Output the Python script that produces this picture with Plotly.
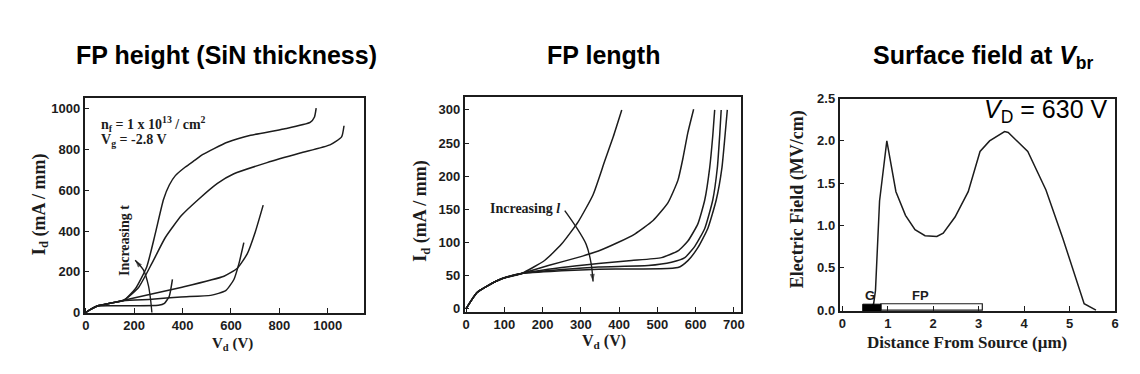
import plotly.graph_objects as go

# ---------------- Data ----------------
# Left panel: FP height (SiN thickness), Id vs Vd
L1_x = [0, 20, 50, 100, 157, 204, 252, 286, 321, 345, 370, 410, 451, 482, 530, 585, 681, 818, 927, 945, 952]
L1_y = [0, 15, 33, 45, 60, 115, 225, 382, 555, 626, 672, 713, 748, 775, 805, 836, 870, 901, 933, 960, 1003]
L2_x = [0, 20, 50, 100, 157, 218, 273, 328, 396, 465, 544, 612, 749, 886, 1009, 1057, 1067]
L2_y = [0, 15, 33, 45, 60, 123, 241, 367, 477, 555, 634, 681, 736, 783, 823, 862, 917]
L3_x = [0, 20, 50, 100, 157, 393, 571, 626, 667, 701, 733]
L3_y = [0, 15, 33, 45, 60, 123, 178, 217, 288, 398, 527]
L4_x = [0, 20, 50, 100, 157, 273, 393, 516, 578, 612, 633, 653]
L4_y = [0, 15, 33, 45, 58, 65, 76, 84, 107, 162, 241, 343]
L5_x = [0, 20, 50, 150, 300, 325, 345, 358]
L5_y = [0, 15, 32, 33, 35, 45, 80, 162]
L_arrow_x = [273, 268, 259, 238, 204]
L_arrow_y = [0, 60, 131, 209, 257]
L_xticks = [0, 200, 400, 600, 800, 1000]
L_yticks = [0, 200, 400, 600, 800, 1000]

# Middle panel: FP length, Id vs Vd
M_common_x = [0, 28, 55, 93, 145]
M_common_y = [0, 24, 34, 45, 53]
M1_x = M_common_x + [206, 249, 293, 332, 362, 385, 407]
M1_y = M_common_y + [73, 97, 131, 172, 222, 260, 300]
M2_x = M_common_x + [215, 300, 346, 394, 442, 489, 528, 554, 567, 580, 595]
M2_y = M_common_y + [65, 78.5, 87, 99, 113, 133, 160, 194, 227, 266, 301]
M3_x = M_common_x + [250, 346, 433, 511, 554, 580, 606, 624, 637, 645, 650]
M3_y = M_common_y + [62, 68, 72.5, 77, 87, 102, 128, 164, 213, 261, 300]
M4_x = M_common_x + [250, 346, 476, 537, 572, 598, 624, 645, 657, 663, 667]
M4_y = M_common_y + [59, 63, 65, 70, 77, 94, 121, 164, 213, 261, 300]
M5_x = M_common_x + [250, 346, 554, 580, 606, 632, 654, 669, 677, 683]
M5_y = M_common_y + [57, 59.5, 62, 72.5, 92, 121, 164, 213, 261, 300]
M_arrow_x = [258, 288, 314, 327, 332]
M_arrow_y = [148, 123, 97, 68, 41]
M_xticks = [0, 100, 200, 300, 400, 500, 600, 700]
M_yticks = [0, 50, 100, 150, 200, 250, 300]

# Right panel: surface field at Vbr
R_x = [0.6, 0.69, 0.73, 0.82, 0.98, 1.18, 1.39, 1.60, 1.82, 2.08, 2.22, 2.48, 2.77, 3.03, 3.24, 3.57, 3.65, 4.08, 4.48, 4.85, 5.32, 5.58]
R_y = [0.0, 0.076, 0.23, 1.29, 2.0, 1.40, 1.12, 0.95, 0.88, 0.87, 0.91, 1.10, 1.40, 1.875, 2.0, 2.11, 2.10, 1.875, 1.42, 0.85, 0.075, 0.0]
gate_span = [0.45, 0.85]
fp_span = [0.85, 3.08]
R_xticks = [0, 1, 2, 3, 4, 5, 6]
R_yticks = [0.0, 0.5, 1.0, 1.5, 2.0, 2.5]
R_yticktext = ["0.0", "0.5", "1.0", "1.5", "2.0", "2.5"]

# ---------------- Figure ----------------
INK = "#1c1c1c"
SANS = "Liberation Sans"
SERIF = "Liberation Serif"
OFF = 8                      # page body margin of the browser
W, H = 1140 - 2 * OFF, 374 - 2 * OFF

fig = go.Figure()


def add_curve(x, y, xa, ya, shape="spline"):
    fig.add_trace(go.Scatter(
        x=x, y=y, mode="lines", xaxis=xa, yaxis=ya, hoverinfo="skip",
        line=dict(color=INK, width=1.5, shape=shape, smoothing=0.5 if shape == "spline" else None),
    ))


def add_arrow(x, y, xa, ya):
    sizes = [0] * (len(x) - 1) + [8]
    fig.add_trace(go.Scatter(
        x=x, y=y, mode="lines+markers", xaxis=xa, yaxis=ya, hoverinfo="skip",
        line=dict(color=INK, width=1.4, shape="spline", smoothing=0.8),
        marker=dict(symbol="arrow", size=sizes, angleref="previous", color=INK, line=dict(width=0)),
    ))


for cx, cy in [(L1_x, L1_y), (L2_x, L2_y), (L3_x, L3_y), (L4_x, L4_y), (L5_x, L5_y)]:
    add_curve(cx, cy, "x", "y")
add_arrow(L_arrow_x, L_arrow_y, "x", "y")

for cx, cy in [(M1_x, M1_y), (M2_x, M2_y), (M3_x, M3_y), (M4_x, M4_y), (M5_x, M5_y)]:
    add_curve(cx, cy, "x2", "y2")
add_arrow(M_arrow_x, M_arrow_y, "x2", "y2")

add_curve(R_x, R_y, "x3", "y3", shape="linear")


def px_x(p):
    return (p - OFF) / W


def px_y(p):
    return 1 - (p - OFF) / H


tickfont = dict(family=SANS, size=13, color=INK, weight="bold")
axis_common = dict(showline=True, linecolor=INK, linewidth=1.5, mirror=True,
                   ticks="inside", ticklen=5, tickwidth=1.2, tickcolor=INK,
                   showgrid=False, zeroline=False, tickfont=tickfont)

fig.update_layout(
    width=W, height=H,
    margin=dict(l=0, r=0, t=0, b=0),
    paper_bgcolor="white", plot_bgcolor="white",
    showlegend=False,
    xaxis=dict(domain=[px_x(83), px_x(364)], range=[-5, 1150], tickvals=L_xticks, anchor="y", **axis_common),
    yaxis=dict(domain=[px_y(318), px_y(94)], range=[-2, 1055], tickvals=L_yticks, anchor="x", **axis_common),
    xaxis2=dict(domain=[px_x(465), px_x(743)], range=[-4, 719], tickvals=M_xticks, anchor="y2", **axis_common),
    yaxis2=dict(domain=[px_y(317), px_y(93)], range=[-5, 320], tickvals=M_yticks, anchor="x2", **axis_common),
    xaxis3=dict(domain=[px_x(842), px_x(1119)], range=[-0.06, 6.0], tickvals=R_xticks, anchor="y3", **axis_common),
    yaxis3=dict(domain=[px_y(316), px_y(95)], range=[-0.01, 2.5], tickvals=R_yticks, ticktext=R_yticktext, anchor="x3", **axis_common),
)

# Electrodes in right panel
fig.add_shape(type="rect", xref="x3", yref="y3", x0=fp_span[0], x1=fp_span[1], y0=0, y1=0.075,
              line=dict(color=INK, width=1.2), fillcolor="white", layer="below")
fig.add_shape(type="rect", xref="x3", yref="y3", x0=gate_span[0], x1=gate_span[1], y0=-0.03, y1=0.07,
              line=dict(color="black", width=1), fillcolor="black", layer="above")

ann = []
# Panel titles
title_font = dict(family=SANS, size=25, color="black", weight="bold")
ann.append(dict(text="FP height (SiN thickness)", x=px_x(226), y=px_y(50), xref="paper", yref="paper",
                showarrow=False, font=title_font, xanchor="center", yanchor="middle"))
ann.append(dict(text="FP length", x=px_x(605), y=px_y(50), xref="paper", yref="paper",
                showarrow=False, font=title_font, xanchor="center", yanchor="middle"))
ann.append(dict(text="Surface field at <i>V</i><sub>br</sub>", x=px_x(987), y=px_y(52), xref="paper", yref="paper",
                showarrow=False, font=title_font, xanchor="center", yanchor="middle"))

# Axis titles
ax_font = dict(family=SERIF, size=18, color=INK, weight="bold")
ann.append(dict(text="I<sub>d</sub> (mA / mm)", x=px_x(38), y=px_y(205), xref="paper", yref="paper",
                showarrow=False, font=ax_font, textangle=-90, xanchor="center", yanchor="middle"))
ann.append(dict(text="V<sub>d</sub> (V)", x=px_x(232), y=px_y(350), xref="paper", yref="paper",
                showarrow=False, font=dict(ax_font, size=15), xanchor="center", yanchor="middle"))
ann.append(dict(text="I<sub>d</sub> (mA / mm)", x=px_x(421), y=px_y(212), xref="paper", yref="paper",
                showarrow=False, font=ax_font, textangle=-90, xanchor="center", yanchor="middle"))
ann.append(dict(text="V<sub>d</sub> (V)", x=px_x(605), y=px_y(348), xref="paper", yref="paper",
                showarrow=False, font=dict(ax_font, size=16), xanchor="center", yanchor="middle"))
ann.append(dict(text="Electric Field (MV/cm)", x=px_x(800), y=px_y(200), xref="paper", yref="paper",
                showarrow=False, font=ax_font, textangle=-90, xanchor="center", yanchor="middle"))
ann.append(dict(text="Distance From Source (\u03bcm)", x=px_x(970), y=px_y(349), xref="paper", yref="paper",
                showarrow=False, font=dict(ax_font, size=17), xanchor="center", yanchor="middle"))

# In-plot labels
lab_font = dict(family=SERIF, size=14, color=INK, weight="bold")
ann.append(dict(text="n<sub>f</sub> = 1 x 10<sup>13</sup> / cm<sup>2</sup>", x=56, y=925, xref="x", yref="y",
                showarrow=False, font=lab_font, xanchor="left", yanchor="middle"))
ann.append(dict(text="V<sub>g</sub> = -2.8 V", x=56, y=845, xref="x", yref="y",
                showarrow=False, font=lab_font, xanchor="left", yanchor="middle"))
ann.append(dict(text="Increasing t", x=163, y=352, xref="x", yref="y", textangle=-90,
                showarrow=False, font=lab_font, xanchor="center", yanchor="middle"))
ann.append(dict(text="Increasing <i>l</i>", x=252, y=151, xref="x2", yref="y2",
                showarrow=False, font=lab_font, xanchor="right", yanchor="middle"))
ann.append(dict(text="G", x=0.6, y=0.17, xref="x3", yref="y3",
                showarrow=False, font=dict(family=SANS, size=13, color=INK, weight="bold")))
ann.append(dict(text="FP", x=1.72, y=0.17, xref="x3", yref="y3",
                showarrow=False, font=dict(family=SANS, size=13, color=INK, weight="bold")))
ann.append(dict(text="<i>V</i><sub>D</sub> = 630 V", x=px_x(1113), y=px_y(108), xref="paper", yref="paper",
                showarrow=False, font=dict(family=SANS, size=25, color="black"), xanchor="right", yanchor="middle"))

fig.update_layout(annotations=ann)

fig.write_html("out.html")
